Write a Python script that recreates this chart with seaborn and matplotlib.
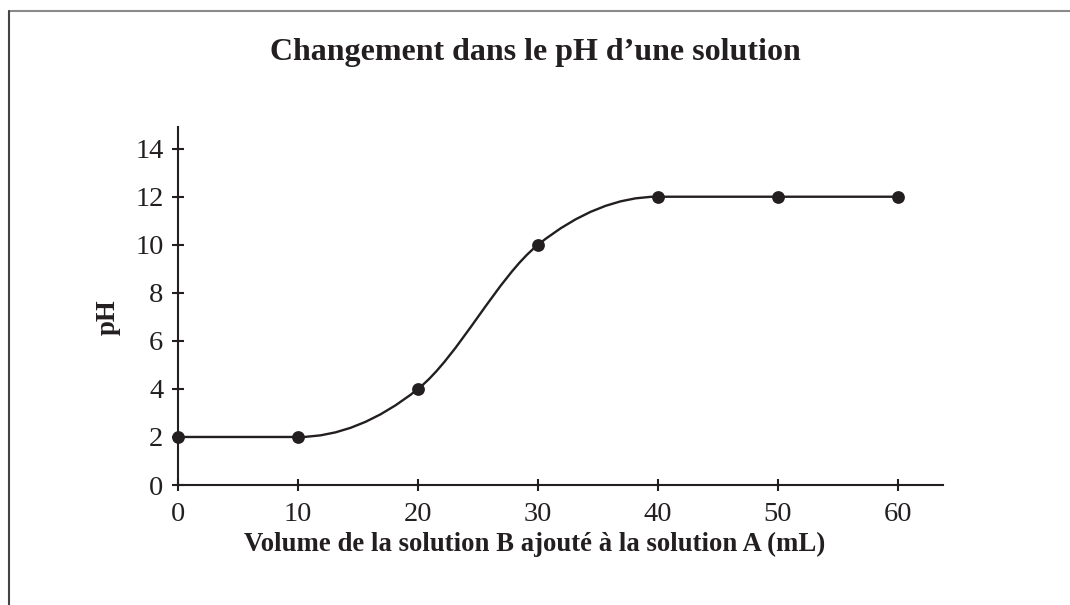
import numpy as np
import pandas as pd
import matplotlib
matplotlib.use("Agg")
import matplotlib.pyplot as plt
from matplotlib.path import Path
from matplotlib.patches import PathPatch
from matplotlib.lines import Line2D
import seaborn as sns

# Data
volume = [0, 10, 20, 30, 40, 50, 60]
ph = [2, 2, 4, 10, 12, 12, 12]
x_ticks = [0, 10, 20, 30, 40, 50, 60]
y_ticks = [0, 2, 4, 6, 8, 10, 12, 14]

ink = "#231f20"

sns.set_theme(style="ticks")
plt.rcParams["font.family"] = ["Liberation Serif", "DejaVu Serif"]

df = pd.DataFrame({"volume": volume, "ph": ph})

fig = plt.figure(figsize=(10.7, 6.05), dpi=100)
ax = fig.add_axes([0.1664, 0.1983, 0.7149, 0.5917])


def smooth_path(x, y):
    # smooth curve through the points as Bezier segments;
    # tangent is flat next to a flat stretch, central difference otherwise
    x = np.asarray(x, float)
    y = np.asarray(y, float)
    h = np.diff(x)
    d = np.diff(y) / h
    m = np.zeros_like(x)
    m[0], m[-1] = d[0], d[-1]
    for i in range(1, len(x) - 1):
        if d[i - 1] * d[i] > 0:
            m[i] = (y[i + 1] - y[i - 1]) / (x[i + 1] - x[i - 1])
    verts = [(x[0], y[0])]
    codes = [Path.MOVETO]
    for i in range(len(h)):
        verts += [(x[i] + h[i] / 3, y[i] + m[i] * h[i] / 3),
                  (x[i + 1] - h[i] / 3, y[i + 1] - m[i + 1] * h[i] / 3),
                  (x[i + 1], y[i + 1])]
        codes += [Path.CURVE4] * 3
    return Path(verts, codes)


ax.add_patch(PathPatch(smooth_path(df["volume"], df["ph"]), fill=False,
                       edgecolor=ink, lw=1.7, clip_on=False, zorder=2))
sns.scatterplot(data=df, x="volume", y="ph", ax=ax, color=ink, s=85,
                edgecolor=ink, linewidth=0, clip_on=False, zorder=3)

ax.set_xlim(0, 63.75)
ax.set_ylim(0, 14.9)
ax.set_xticks(x_ticks)
ax.set_yticks(y_ticks)
sns.despine(ax=ax)
for side in ["left", "bottom"]:
    ax.spines[side].set_color(ink)
    ax.spines[side].set_linewidth(1.5)
ax.tick_params(direction="inout", length=9, width=1.5, color=ink,
               labelsize=20.5, labelcolor=ink)
ax.tick_params(axis="x", pad=8)
ax.tick_params(axis="y", pad=6)
ax.set_xlabel("")
ax.set_ylabel("")

fig.text(0.5, 0.913, "Changement dans le pH d\u2019une solution", ha="center",
         va="center", fontsize=23, fontweight="bold", color=ink)
fig.text(0.5, 0.1, "Volume de la solution B ajouté à la solution A (mL)",
         ha="center", va="center", fontsize=19.3, fontweight="bold", color=ink)
fig.text(0.101, 0.476, "pH", ha="center", va="center", rotation=90,
         fontsize=19.3, fontweight="bold", color=ink)

# frame lines seen at top and left of the reference
fig.add_artist(Line2D([0.008, 1.0], [0.9815, 0.9815], color="#8a8a8a", lw=1.5))
fig.add_artist(Line2D([0.008, 0.008], [0.0, 0.9815], color="#444444", lw=1.5))

fig.savefig("out.png", dpi=100)
